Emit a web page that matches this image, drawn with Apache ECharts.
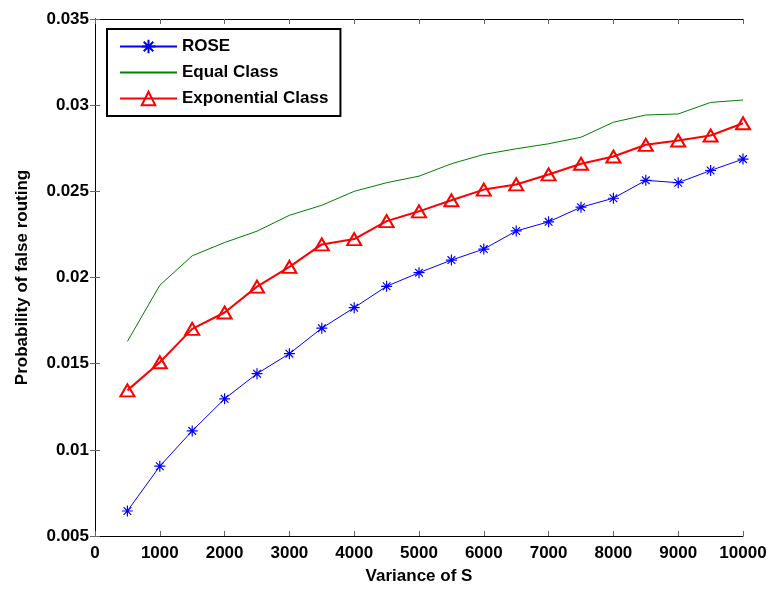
<!DOCTYPE html>
<html>
<head>
<meta charset="utf-8">
<script src="https://cdn.jsdelivr.net/npm/echarts@6/dist/echarts.min.js"></script>
<style>
    html, body { margin: 0; padding: 0; background: #fff; }
    #chart { width: 777px; height: 592px; }
</style>
</head>
<body>
<div id="chart"></div>
<script>
// 横轴：方差
const variance = [500, 1000, 1500, 2000, 2500, 3000, 3500, 4000, 4500, 5000,
    5500, 6000, 6500, 7000, 7500, 8000, 8500, 9000, 9500, 10000];

// 各曲线数值
const rose = [0.00645, 0.00905, 0.0111, 0.01296, 0.01442, 0.01558, 0.01706, 0.01825, 0.01949, 0.02028,
    0.02101, 0.02165, 0.0227, 0.02323, 0.02408, 0.0246, 0.02564, 0.0255, 0.02621, 0.02687];
const equalClass = [0.01629, 0.01955, 0.02126, 0.02203, 0.02269, 0.02361, 0.02419, 0.025, 0.0255, 0.02588,
    0.0266, 0.02714, 0.02747, 0.02776, 0.02814, 0.02901, 0.02943, 0.02949, 0.03016, 0.0303];
const expClass = [0.01345, 0.01508, 0.01702, 0.01797, 0.01947, 0.02062, 0.02192, 0.02223, 0.02327, 0.02384,
    0.02448, 0.0251, 0.0254, 0.02598, 0.0266, 0.02702, 0.0277, 0.02795, 0.02824, 0.02895];

const seriesNames = ['ROSE', 'Equal Class', 'Exponential Class'];

const zip = (ys) => variance.map((x, i) => [x, ys[i]]);

const font = 'Liberation Sans, Arial, sans-serif';
const txt = { fontFamily: font, fontSize: 17, fontWeight: 'bold', color: '#000' };
const asterisk = 'path://M5 0 L5 10 M0 5 L10 5 M1.5 1.5 L8.5 8.5 M8.5 1.5 L1.5 8.5';

const myChart = echarts.init(document.getElementById('chart'), null, { renderer: 'canvas' });

// 坐标轴公共样式
const frameAxis = {
    axisLine: { show: true, lineStyle: { color: '#000', width: 1 } },
    axisTick: { show: true, inside: true, length: 5, lineStyle: { color: '#666' } },
    splitLine: { show: false }
};

let option = {
    animation: false,
    backgroundColor: '#fff',
    grid: { left: 95, right: 34, top: 19, bottom: 56 },
    legend: {
        orient: 'vertical',
        left: 107,
        top: 29,
        padding: [9, 12, 9, 12],
        itemGap: 9,
        itemWidth: 57,
        itemHeight: 17,
        backgroundColor: '#fff',
        borderColor: '#000',
        borderWidth: 2,
        textStyle: txt,
        data: [
            { name: 'ROSE' },
            { name: 'Equal Class', itemStyle: { opacity: 0 } },
            { name: 'Exponential Class' }
        ]
    },
    xAxis: [{
        type: 'value',
        min: 0, max: 10000, interval: 1000,
        position: 'bottom',
        name: 'Variance of S',
        nameLocation: 'middle',
        nameGap: 32,
        nameTextStyle: txt,
        axisLabel: { ...txt, margin: 9, formatter: (v) => String(v) },
        ...frameAxis
    }, {
        type: 'value',
        min: 0, max: 10000, interval: 1000,
        position: 'top',
        axisLabel: { show: false },
        ...frameAxis
    }],
    yAxis: [{
        type: 'value',
        min: 0.005, max: 0.035, interval: 0.005,
        position: 'left',
        name: 'Probability of false routing',
        nameLocation: 'middle',
        nameGap: 64,
        nameTextStyle: txt,
        axisLabel: { ...txt, margin: 6, formatter: (v) => String(+v.toFixed(3)) },
        ...frameAxis
    }, {
        type: 'value',
        min: 0.005, max: 0.035, interval: 0.005,
        position: 'right',
        axisLabel: { show: false },
        ...frameAxis
    }],
    series: [{
        name: 'ROSE',
        type: 'line',
        data: zip(rose),
        symbol: asterisk,
        symbolSize: 11,
        lineStyle: { color: '#0000ff', width: 1 },
        itemStyle: { color: '#0000ff', borderColor: '#0000ff', borderWidth: 1.2 },
        z: 3
    }, {
        name: 'Equal Class',
        type: 'line',
        data: zip(equalClass),
        showSymbol: false,
        symbol: 'circle',
        symbolSize: 0,
        lineStyle: { color: '#008000', width: 1 },
        itemStyle: { color: '#008000' },
        z: 2
    }, {
        name: 'Exponential Class',
        type: 'line',
        data: zip(expClass),
        symbol: 'triangle',
        symbolSize: [14, 12],
        lineStyle: { color: '#ff0000', width: 2 },
        itemStyle: { color: 'rgba(255,255,255,0)', borderColor: '#ff0000', borderWidth: 2 },
        z: 4
    }]
};

myChart.setOption(option, true);
</script>
</body>
</html>
